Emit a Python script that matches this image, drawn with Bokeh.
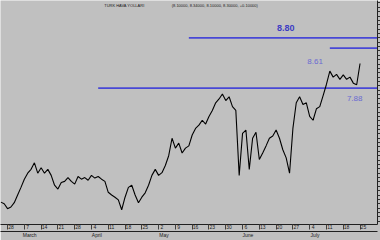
import numpy as np
from bokeh.plotting import figure
from bokeh.models import LinearAxis, FixedTicker, Label, Range1d
from bokeh.embed import file_html
from bokeh.resources import INLINE

# ---- data ----
prices = [5.79, 5.76, 5.67, 5.70, 5.78, 5.92, 6.06, 6.21, 6.32, 6.39,
          6.51, 6.32, 6.42, 6.32, 6.39, 6.28, 6.10, 6.03, 6.15, 6.17,
          6.24, 6.17, 6.12, 6.26, 6.21, 6.24, 6.19, 6.28, 6.23, 6.26,
          6.21, 6.17, 5.97, 5.92, 5.88, 5.83, 5.65, 5.88, 6.06, 6.10,
          5.92, 5.78, 5.88, 5.96, 6.10, 6.28, 6.39, 6.28, 6.33, 6.46,
          6.64, 6.96, 6.78, 6.87, 6.69, 6.78, 6.82, 7.02, 7.14, 7.20,
          7.29, 7.22, 7.36, 7.47, 7.61, 7.68, 7.77, 7.65, 7.72, 7.54,
          7.47, 6.28, 7.05, 7.11, 6.39, 6.96, 7.07, 6.57, 6.69, 6.82,
          6.96, 7.00, 7.11, 6.96, 6.75, 6.60, 6.32, 7.14, 7.61, 7.72,
          7.58, 7.61, 7.36, 7.29, 7.50, 7.54, 7.74, 7.95, 8.19, 8.08,
          8.13, 8.04, 8.12, 8.04, 8.08, 7.97, 7.94, 8.33]
days = list(range(len(prices)))

week_ticks = [2, 7, 12, 17, 22, 27, 32, 37, 42, 47, 52, 57, 62, 67, 72, 77, 82, 87, 92, 97, 102, 107]
week_labels = ["28", "7", "14", "21", "28", "4", "11", "18", "25", "2", "9", "16", "23", "30",
               "6", "13", "20", "27", "4", "11", "18", "25"]
month_ticks = [7, 27, 47, 72, 92]
month_labels = ["March", "April", "May", "June", "July"]

levels = [7.88, 8.80, 8.61]
level_start = [29, 56, 98]
level_labels = ["7.88", "8.80", "8.61"]

title_text = "TURK HAVA YOLLARI"
info_text = "(8.10000, 8.34000, 8.10000, 8.30000, +0.10000)"

# ---- styling ----
BG = "#c0c0c0"
BLUE = "#4848d6"

x_range = Range1d(-0.1, 112.2)
y_range = Range1d(5.38, 9.484)

p = figure(width=380, height=240, x_range=x_range, y_range=y_range,
           output_backend="svg", toolbar_location=None,
           x_axis_location=None, y_axis_location=None,
           background_fill_color=BG, border_fill_color=BG,
           min_border_left=0, min_border_right=0, min_border_top=0, min_border_bottom=0)
p.outline_line_color = None
p.xgrid.visible = False
p.ygrid.visible = False

# horizontal levels
p.segment(x0=level_start, y0=levels, x1=[x_range.end + 5] * len(levels), y1=levels,
          line_color=BLUE, line_width=1.8)

# price line
p.line(days, prices, line_color="black", line_width=1.1)

# level labels
lab_cfg = {"8.80": (84.9, 0.18, "9px", "#3c3cc4", "bold"),
           "8.61": (93.6, -0.24, "8px", "#6a6ad2", "normal"),
           "7.88": (105.4, -0.20, "8px", "#6a6ad2", "normal")}
for lv, txt in zip(levels, level_labels):
    lx, dy, fs, col, fst = lab_cfg[txt]
    p.add_layout(Label(x=lx, y=lv + dy, text=txt, text_align="center", text_baseline="middle",
                       text_font="Liberation Sans", text_font_size=fs,
                       text_color=col, text_font_style=fst))

p.add_layout(Label(x=30.8, y=9.39, text=title_text, text_align="left", text_baseline="middle",
                   text_font="Liberation Sans", text_font_size="4px", text_color="#202020"))
p.add_layout(Label(x=50.9, y=9.39, text=info_text, text_align="left", text_baseline="middle",
                   text_font="Liberation Sans", text_font_size="4px", text_color="#202020"))

# right axis: only tick marks (its labels lie outside the picture in the original)
r_minor = [round(v, 2) for v in np.arange(5.44, 9.48, 0.08)]
ry = LinearAxis(ticker=FixedTicker(ticks=[], minor_ticks=r_minor))
ry.major_label_standoff = 0
ry.major_tick_in = 0
ry.minor_tick_in = 0
ry.major_tick_out = 0
ry.minor_tick_out = 3
ry.axis_line_color = "#202020"
ry.minor_tick_line_color = "#303030"
p.add_layout(ry, "right")

# bottom axis with weekly dates inside a band
label_pos = [t + 1.0 for t in week_ticks]
bx = LinearAxis(ticker=FixedTicker(ticks=label_pos, minor_ticks=week_ticks))
bx.major_label_overrides = {lp: lb for lp, lb in zip(label_pos, week_labels)}
bx.major_label_text_font_size = "5px"
bx.major_label_text_font = "Liberation Sans"
bx.major_label_text_color = "#202020"
bx.major_tick_out = 0
bx.major_tick_in = 0
bx.minor_tick_in = 0
bx.minor_tick_out = 5
bx.minor_tick_line_color = "#404040"
bx.major_label_standoff = -5
bx.axis_line_color = "#202020"
p.add_layout(bx, "below")

# month axis
m_pos = [t + 1.6 for t in month_ticks]
mx = LinearAxis(ticker=FixedTicker(ticks=m_pos, minor_ticks=[]))
mx.major_label_overrides = {mp: ml for mp, ml in zip(m_pos, month_labels)}
mx.major_label_text_font_size = "5px"
mx.major_label_text_font = "Liberation Sans"
mx.major_label_text_color = "#202020"
mx.major_tick_out = 0
mx.major_tick_in = 0
mx.minor_tick_out = 0
mx.major_label_standoff = 0
mx.axis_line_color = "#202020"
p.add_layout(mx, "below")

open("out.html", "w").write(file_html(p, INLINE))
